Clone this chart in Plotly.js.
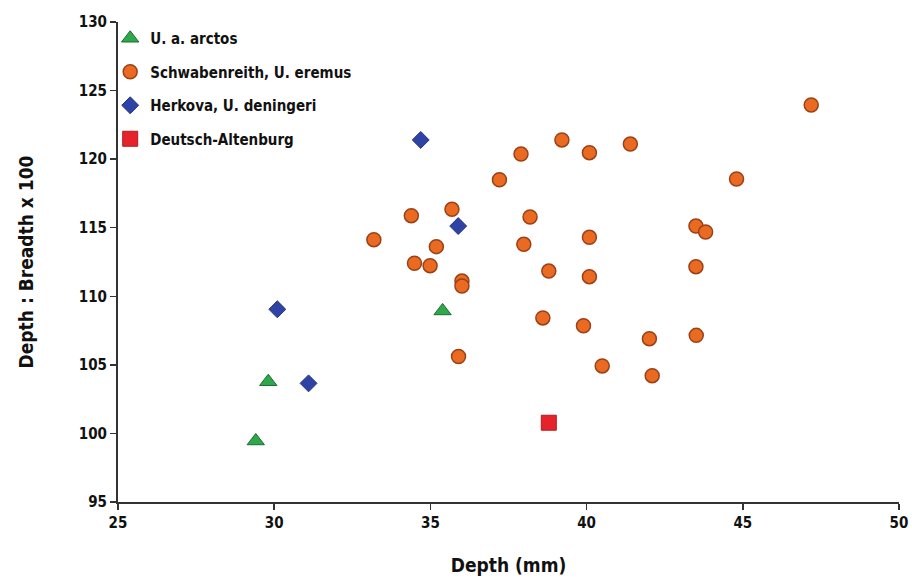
<!DOCTYPE html>
<html>
<head>
<meta charset="utf-8">
<script src="https://cdn.plot.ly/plotly-3.0.1.min.js"></script>
<style>html,body{margin:0;padding:0;background:#fff;}#chart{width:912px;height:580px;}</style>
</head>
<body>
<div id="chart"></div>
<script>
// U. a. arctos
const arctosX = [29.41, 29.81, 35.39];
const arctosY = [99.45, 103.77, 108.93];
// Schwabenreith, U. eremus
const eremusX = [47.19, 39.21, 41.40, 40.09, 37.90, 44.80, 37.21, 35.69, 34.39, 38.19,
                 43.50, 43.81, 40.09, 33.19, 37.99, 35.19, 34.49, 34.99, 43.50, 38.79,
                 40.09, 36.01, 36.01, 38.60, 39.90, 43.51, 42.01, 35.90, 40.50, 42.10];
const eremusY = [123.95, 121.40, 121.10, 120.47, 120.37, 118.55, 118.50, 116.34, 115.88, 115.78,
                 115.12, 114.69, 114.30, 114.13, 113.79, 113.62, 112.41, 112.23, 112.16, 111.84,
                 111.43, 111.11, 110.75, 108.42, 107.85, 107.15, 106.91, 105.61, 104.92, 104.21];
// Herkova, U. deningeri
const deningeriX = [34.69, 35.89, 30.10, 31.10];
const deningeriY = [121.40, 115.12, 109.05, 103.65];
// Deutsch-Altenburg
const daX = [38.79];
const daY = [100.78];

const seriesNames = ["U. a. arctos", "Schwabenreith, U. eremus", "Herkova, U. deningeri", "Deutsch-Altenburg"];
const xTicks = [25, 30, 35, 40, 45, 50];
const yTicks = [95, 100, 105, 110, 115, 120, 125, 130];

const FONT = "'DejaVu Sans Condensed', 'Liberation Sans Narrow', 'Roboto', sans-serif";

const traces = [
  {x: arctosX, y: arctosY, name: seriesNames[0], mode: "markers", type: "scatter", legendgroup: "a",
   marker: {symbol: "triangle-up", size: 15, color: "#2EA84A", line: {color: "#1E6B32", width: 1}}},
  {x: eremusX, y: eremusY, name: seriesNames[1], mode: "markers", type: "scatter", legendgroup: "b",
   marker: {symbol: "circle", size: 14, color: "#EA6A22", line: {color: "#9A4118", width: 1.5}}},
  {x: deningeriX, y: deningeriY, name: seriesNames[2], mode: "markers", type: "scatter", legendgroup: "c",
   marker: {symbol: "diamond", size: 13, color: "#2F43A6", line: {color: "#24347E", width: 1}}},
  {x: daX, y: daY, name: seriesNames[3], mode: "markers", type: "scatter", legendgroup: "d",
   marker: {symbol: "square", size: 15, color: "#E4232A", line: {color: "#B51B20", width: 1}}}
];

const layout = {
  width: 912, height: 580,
  paper_bgcolor: "#ffffff", plot_bgcolor: "#ffffff",
  margin: {l: 118, r: 13, t: 22, b: 78},
  font: {family: FONT, color: "#111", size: 15, weight: "bold"},
  showlegend: true,
  legend: {
    x: -0.01, y: 1.0, xanchor: "left", yanchor: "top",
    xref: "paper", yref: "paper",
    bgcolor: "rgba(255,255,255,0)",
    traceorder: "grouped", tracegroupgap: 11,
    font: {family: FONT, size: 15, color: "#111", weight: "bold"},
    itemwidth: 30
  },
  xaxis: {
    range: [25, 50], tickvals: xTicks, ticktext: xTicks.map(String),
    showgrid: false, zeroline: false, showline: true, linecolor: "#333", linewidth: 2,
    ticks: "outside", ticklen: 6, tickwidth: 1.5, tickcolor: "#333",
    ticklabeloverflow: "allow",
    tickfont: {family: FONT, size: 15, color: "#111", weight: "bold"},
    title: {text: "Depth (mm)", font: {family: FONT, size: 19, color: "#111", weight: "bold"}, standoff: 28}
  },
  yaxis: {
    range: [95, 130], tickvals: yTicks, ticktext: yTicks.map(String),
    showgrid: false, zeroline: false, showline: true, linecolor: "#333", linewidth: 2,
    ticks: "outside", ticklen: 6, tickwidth: 1.5, tickcolor: "#333",
    tickfont: {family: FONT, size: 15, color: "#111", weight: "bold"},
    title: {text: "Depth : Breadth x 100", font: {family: FONT, size: 19, color: "#111", weight: "bold"}, standoff: 40}
  }
};

Plotly.newPlot("chart", traces, layout, {displayModeBar: false, staticPlot: true});
</script>
</body>
</html>
